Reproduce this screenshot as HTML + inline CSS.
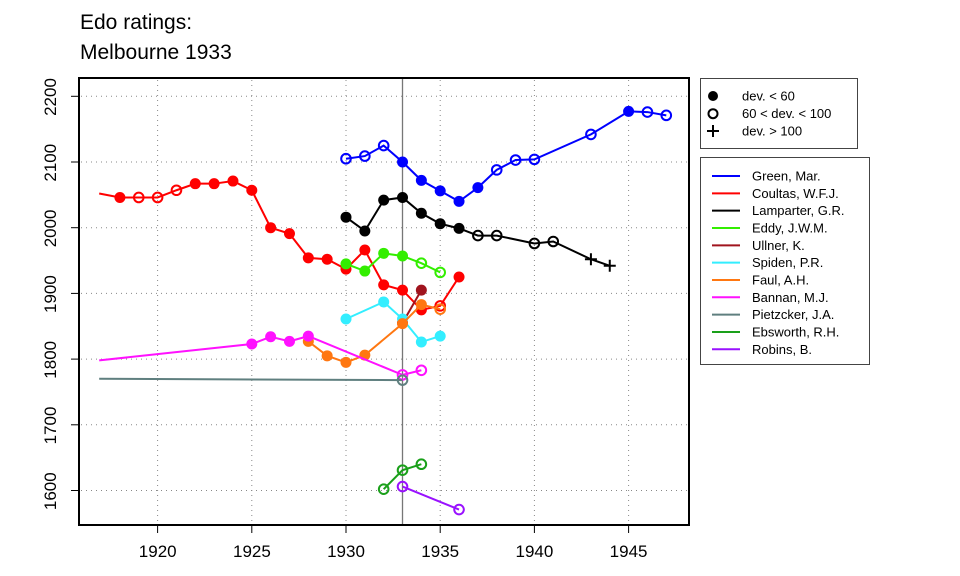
<!DOCTYPE html>
<html><head><meta charset="utf-8"><style>
html,body{margin:0;padding:0;background:#fff}
svg{display:block;font-family:"Liberation Sans",Arial,sans-serif}
</style></head><body>
<svg id="s" width="960" height="576" viewBox="0 0 960 576" xmlns="http://www.w3.org/2000/svg">
<text x="80" y="29" font-size="21">Edo ratings:</text>
<text x="80" y="59" font-size="21">Melbourne 1933</text>
<g id="grid" stroke="#888" stroke-width="1" stroke-dasharray="1,4"></g>
<line x1="402.5" y1="78" x2="402.5" y2="525" stroke="#777" stroke-width="1.3"/>
<g id="series"></g>
<rect x="79" y="78" width="610" height="447" fill="none" stroke="#000" stroke-width="2"/>
<g id="ticks" stroke="#000" stroke-width="1"></g>
<g font-size="17" text-anchor="middle">
<text x="157.7" y="557">1920</text><text x="251.9" y="557">1925</text><text x="346" y="557">1930</text>
<text x="440.2" y="557">1935</text><text x="534.4" y="557">1940</text><text x="628.6" y="557">1945</text>
<text transform="translate(56,491.2) rotate(-90)">1600</text>
<text transform="translate(56,425.5) rotate(-90)">1700</text>
<text transform="translate(56,359.8) rotate(-90)">1800</text>
<text transform="translate(56,294.1) rotate(-90)">1900</text>
<text transform="translate(56,228.4) rotate(-90)">2000</text>
<text transform="translate(56,162.7) rotate(-90)">2100</text>
<text transform="translate(56,97) rotate(-90)">2200</text>
</g>
<rect x="700.5" y="78.5" width="157" height="70" fill="#fff" stroke="#444" stroke-width="1"/>
<circle cx="713" cy="96" r="5" fill="#000"/>
<circle cx="713" cy="113.7" r="4.5" fill="none" stroke="#000" stroke-width="2"/>
<path d="M707 131h12M713 125v12" stroke="#000" stroke-width="2"/>
<g font-size="13">
<text x="742" y="100.5">dev. &lt; 60</text>
<text x="742" y="118">60 &lt; dev. &lt; 100</text>
<text x="742" y="135.5">dev. &gt; 100</text>
</g>
<rect x="700.5" y="157.5" width="169" height="207" fill="#fff" stroke="#444" stroke-width="1"/>
<g id="leg" font-size="13"></g>
</svg>
<script>
const NS="http://www.w3.org/2000/svg";
const X=y=>346+(y-1930)*18.84, Y=v=>227.7-(v-2000)*0.657;
const g=document.getElementById('grid'),t=document.getElementById('ticks');
function el(p,tag,a){const e=document.createElementNS(NS,tag);for(const k in a)e.setAttribute(k,a[k]);p.appendChild(e);return e;}
for(let yr=1920;yr<=1945;yr+=5){el(g,'line',{x1:X(yr),x2:X(yr),y1:80,y2:523});el(t,'line',{x1:X(yr),x2:X(yr),y1:525,y2:533});}
for(let v=1600;v<=2200;v+=100){el(g,'line',{x1:81,x2:687,y1:Y(v),y2:Y(v)});el(t,'line',{x1:71,x2:79,y1:Y(v),y2:Y(v)});}
const S=[
["Green, Mar.","#0000ff",[[1930,2105,'o'],[1931,2109,'o'],[1932,2125,'o'],[1933,2100,'f'],[1934,2072,'f'],[1935,2056,'f'],[1936,2040,'f'],[1937,2061,'f'],[1938,2088,'o'],[1939,2103,'o'],[1940,2104,'o'],[1943,2142,'o'],[1945,2177,'f'],[1946,2176,'o'],[1947,2171,'o']]],
["Coultas, W.F.J.","#ff0000",[[1916.9,2052,'n'],[1918,2046,'f'],[1919,2046,'o'],[1920,2046,'o'],[1921,2057,'o'],[1922,2067,'f'],[1923,2067,'f'],[1924,2071,'f'],[1925,2057,'f'],[1926,2000,'f'],[1927,1991,'f'],[1928,1954,'f'],[1929,1952,'f'],[1930,1937,'f'],[1931,1966,'f'],[1932,1913,'f'],[1933,1905,'f'],[1934,1875,'f'],[1935,1881,'o'],[1936,1925,'f']]],
["Lamparter, G.R.","#000000",[[1930,2016,'f'],[1931,1995,'f'],[1932,2042,'f'],[1933,2046,'f'],[1934,2022,'f'],[1935,2006,'f'],[1936,1999,'f'],[1937,1988,'o'],[1938,1988,'o'],[1940,1976,'o'],[1941,1979,'o'],[1943,1952,'p'],[1944,1942,'p']]],
["Eddy, J.W.M.","#33ee00",[[1930,1945,'f'],[1931,1934,'f'],[1932,1961,'f'],[1933,1957,'f'],[1934,1946,'o'],[1935,1932,'o']]],
["Ullner, K.","#a0141e",[[1933,1855,'f'],[1934,1905,'f']]],
["Spiden, P.R.","#33eeff",[[1930,1861,'f'],[1932,1887,'f'],[1933,1861,'f'],[1934,1826,'f'],[1935,1835,'f']]],
["Faul, A.H.","#ff7711",[[1928,1827,'f'],[1929,1805,'f'],[1930,1795,'f'],[1931,1806,'f'],[1933,1854,'f'],[1934,1883,'f'],[1935,1876,'o']]],
["Bannan, M.J.","#ff11ff",[[1916.9,1798,'n'],[1925,1823,'f'],[1926,1834,'f'],[1927,1827,'f'],[1928,1835,'f'],[1933,1776,'o'],[1934,1783,'o']]],
["Pietzcker, J.A.","#5f7f7f",[[1916.9,1770,'n'],[1933,1768,'o']]],
["Ebsworth, R.H.","#1aa01a",[[1932,1602,'o'],[1933,1631,'o'],[1934,1640,'o']]],
["Robins, B.","#9911ff",[[1933,1606,'o'],[1936,1571,'o']]]];
const sg=document.getElementById('series'),lg=document.getElementById('leg');
S.forEach((s,i)=>{
 const c=s[1];
 el(sg,'polyline',{points:s[2].map(p=>X(p[0])+','+Y(p[1])).join(' '),fill:'none',stroke:c,'stroke-width':2});
 s[2].forEach(p=>{const x=X(p[0]),y=Y(p[1]);
  if(p[2]=='f')el(sg,'circle',{cx:x,cy:y,r:5.5,fill:c});
  else if(p[2]=='o')el(sg,'circle',{cx:x,cy:y,r:4.8,fill:'none',stroke:c,'stroke-width':2});
  else if(p[2]=='p')el(sg,'path',{d:`M${x-6} ${y}h12M${x} ${y-6}v12`,stroke:c,'stroke-width':2});
 });
 const ly=176+i*17.33;
 el(lg,'line',{x1:712,x2:740,y1:ly,y2:ly,stroke:c,'stroke-width':2});
 const tx=el(lg,'text',{x:752,y:ly+4.5});tx.textContent=s[0];
});
</script>
</body></html>
